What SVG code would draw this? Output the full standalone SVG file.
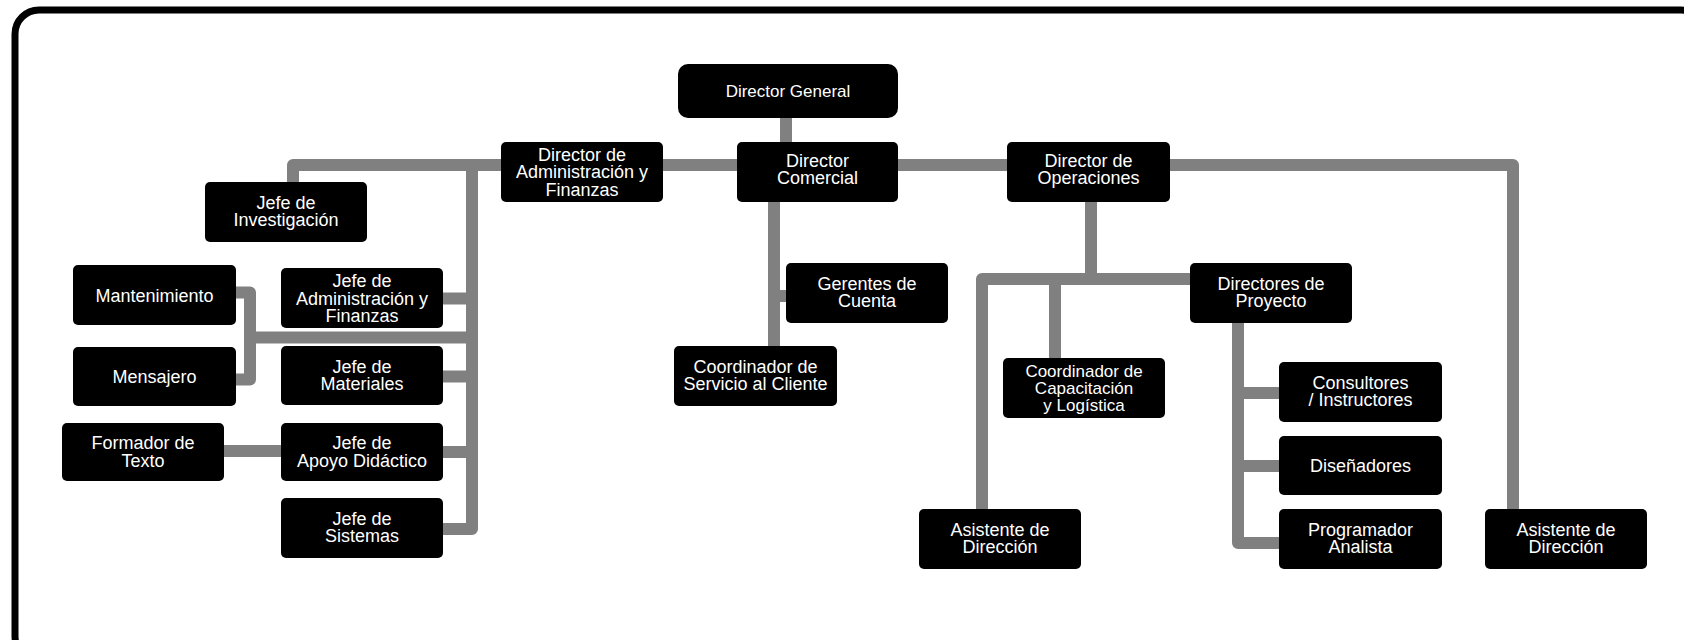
<svg xmlns="http://www.w3.org/2000/svg" width="1684" height="640" viewBox="0 0 1684 640">
<style>
.bg{fill:#ffffff}
.frame{fill:none;stroke:#000;stroke-width:7}
.node rect{fill:#000}
.node text{fill:#fff;font-family:"Liberation Sans",Arial,sans-serif;font-size:18px;text-anchor:middle}
.dg text{font-size:17px}
.tight text{font-size:17px}
.conn path{fill:none;stroke:#808080;stroke-width:12;stroke-linejoin:round}
</style>
<rect class="bg" x="0" y="0" width="1684" height="640"/>
<rect class="frame" x="15" y="10" width="1690" height="650" rx="24"/>
<g id="connectors" class="conn">
<path d="M293,182 V165 H1513 V509"/>
<path d="M786,118 V142"/>
<path d="M472,165 V529 H443"/>
<path d="M443,298.5 H472"/>
<path d="M443,376.5 H472"/>
<path d="M443,452 H472"/>
<path d="M250,337.5 H472"/>
<path d="M236,292.5 H250 V379.5 H236"/>
<path d="M224,451 H281"/>
<path d="M774,202 V346"/>
<path d="M774,296 H786"/>
<path d="M1091,202 V279"/>
<path d="M982,509 V279 H1190"/>
<path d="M1055,279 V358"/>
<path d="M1238,323 V543 H1279"/>
<path d="M1238,393 H1279"/>
<path d="M1238,466 H1279"/>
</g>
<g id="director-general" class="node dg"><rect x="678" y="64" width="220" height="54" rx="10"/><text x="788" y="97">Director General</text></g>
<g id="director-admin" class="node"><rect x="501" y="142" width="162" height="60" rx="5"/><text x="582" y="160.5">Director de</text><text x="582" y="178">Administración y</text><text x="582" y="195.5">Finanzas</text></g>
<g id="director-comercial" class="node"><rect x="737" y="142" width="161" height="60" rx="5"/><text x="817.5" y="166.5">Director</text><text x="817.5" y="184">Comercial</text></g>
<g id="director-operaciones" class="node"><rect x="1007" y="142" width="163" height="60" rx="5"/><text x="1088.5" y="166.5">Director de</text><text x="1088.5" y="184">Operaciones</text></g>
<g id="jefe-investigacion" class="node"><rect x="205" y="182" width="162" height="60" rx="5"/><text x="286" y="208.5">Jefe de</text><text x="286" y="226">Investigación</text></g>
<g id="mantenimiento" class="node"><rect x="73" y="265" width="163" height="60" rx="5"/><text x="154.5" y="301.5">Mantenimiento</text></g>
<g id="jefe-admin" class="node"><rect x="281" y="268" width="162" height="60" rx="5"/><text x="362" y="287">Jefe de</text><text x="362" y="304.5">Administración y</text><text x="362" y="322">Finanzas</text></g>
<g id="mensajero" class="node"><rect x="73" y="347" width="163" height="59" rx="5"/><text x="154.5" y="382.5">Mensajero</text></g>
<g id="jefe-materiales" class="node"><rect x="281" y="346" width="162" height="59" rx="5"/><text x="362" y="372.5">Jefe de</text><text x="362" y="390">Materiales</text></g>
<g id="formador-texto" class="node"><rect x="62" y="423" width="162" height="58" rx="5"/><text x="143" y="449">Formador de</text><text x="143" y="466.5">Texto</text></g>
<g id="jefe-apoyo" class="node"><rect x="281" y="423" width="162" height="58" rx="5"/><text x="362" y="449">Jefe de</text><text x="362" y="466.5">Apoyo Didáctico</text></g>
<g id="jefe-sistemas" class="node"><rect x="281" y="498" width="162" height="60" rx="5"/><text x="362" y="524.5">Jefe de</text><text x="362" y="542">Sistemas</text></g>
<g id="gerentes-cuenta" class="node"><rect x="786" y="263" width="162" height="60" rx="5"/><text x="867" y="289.5">Gerentes de</text><text x="867" y="307">Cuenta</text></g>
<g id="coord-servicio" class="node"><rect x="674" y="346" width="163" height="60" rx="5"/><text x="755.5" y="372.5">Coordinador de</text><text x="755.5" y="390">Servicio al Cliente</text></g>
<g id="directores-proyecto" class="node"><rect x="1190" y="263" width="162" height="60" rx="5"/><text x="1271" y="289.5">Directores de</text><text x="1271" y="307">Proyecto</text></g>
<g id="coord-capacitacion" class="node tight"><rect x="1003" y="358" width="162" height="60" rx="5"/><text x="1084" y="376.5">Coordinador de</text><text x="1084" y="393.5">Capacitación</text><text x="1084" y="410.5">y Logística</text></g>
<g id="consultores" class="node"><rect x="1279" y="362" width="163" height="60" rx="5"/><text x="1360.5" y="388.5">Consultores</text><text x="1360.5" y="406">/ Instructores</text></g>
<g id="disenadores" class="node"><rect x="1279" y="436" width="163" height="59" rx="5"/><text x="1360.5" y="472">Diseñadores</text></g>
<g id="programador" class="node"><rect x="1279" y="509" width="163" height="60" rx="5"/><text x="1360.5" y="535.5">Programador</text><text x="1360.5" y="553">Analista</text></g>
<g id="asistente-1" class="node"><rect x="919" y="509" width="162" height="60" rx="5"/><text x="1000" y="535.5">Asistente de</text><text x="1000" y="553">Dirección</text></g>
<g id="asistente-2" class="node"><rect x="1485" y="509" width="162" height="60" rx="5"/><text x="1566" y="535.5">Asistente de</text><text x="1566" y="553">Dirección</text></g>
</svg>
